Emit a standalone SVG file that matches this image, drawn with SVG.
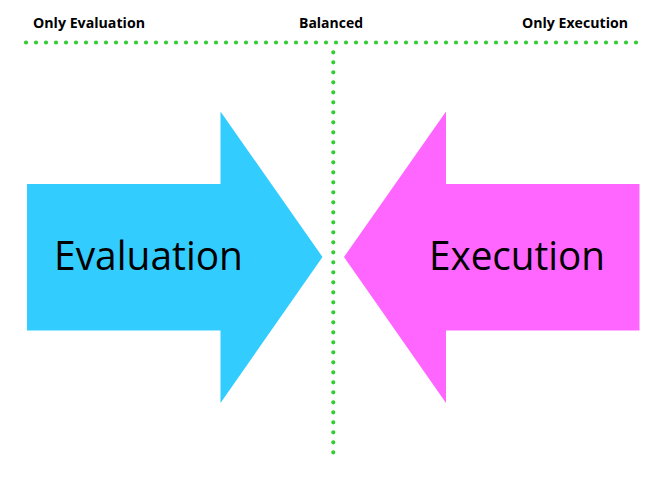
<svg xmlns="http://www.w3.org/2000/svg" width="668" height="485" viewBox="0 0 668 485">
<style>
.dots{fill:none;stroke:#33cc33;stroke-width:4.2;stroke-linecap:round;stroke-dasharray:0 10}
.lbl{font-family:"Open Sans","Liberation Sans",sans-serif;font-weight:bold;font-size:14px;fill:#000}
.big{font-family:"Open Sans","Liberation Sans",sans-serif;font-size:40px;fill:#000}
</style>
<rect width="668" height="485" fill="#fff"/>
<g id="connectors">
<line class="dots" x1="26" y1="42.5" x2="637" y2="42.5"/>
<line class="dots" x1="333.3" y1="52.3" x2="333.3" y2="453.3"/>
</g>
<g id="label-only-evaluation"><text class="lbl" x="33" y="28" textLength="112" lengthAdjust="spacingAndGlyphs">Only Evaluation</text></g>
<g id="label-balanced"><text class="lbl" x="299" y="28" textLength="64" lengthAdjust="spacingAndGlyphs">Balanced</text></g>
<g id="label-only-execution"><text class="lbl" x="522" y="28" textLength="106" lengthAdjust="spacingAndGlyphs">Only Execution</text></g>
<g id="evaluation">
<polygon fill="#33ccff" points="27,184 220.5,184 220.5,111.5 322.5,257 220.5,403 220.5,330.5 27,330.5"/>
<text class="big" x="54" y="270" textLength="189" lengthAdjust="spacingAndGlyphs">Evaluation</text>
</g>
<g id="execution">
<polygon fill="#ff66ff" points="639.5,184 446,184 446,111.5 344,257 446,403 446,330.5 639.5,330.5"/>
<text class="big" x="429" y="270" textLength="176" lengthAdjust="spacingAndGlyphs">Execution</text>
</g>
</svg>
